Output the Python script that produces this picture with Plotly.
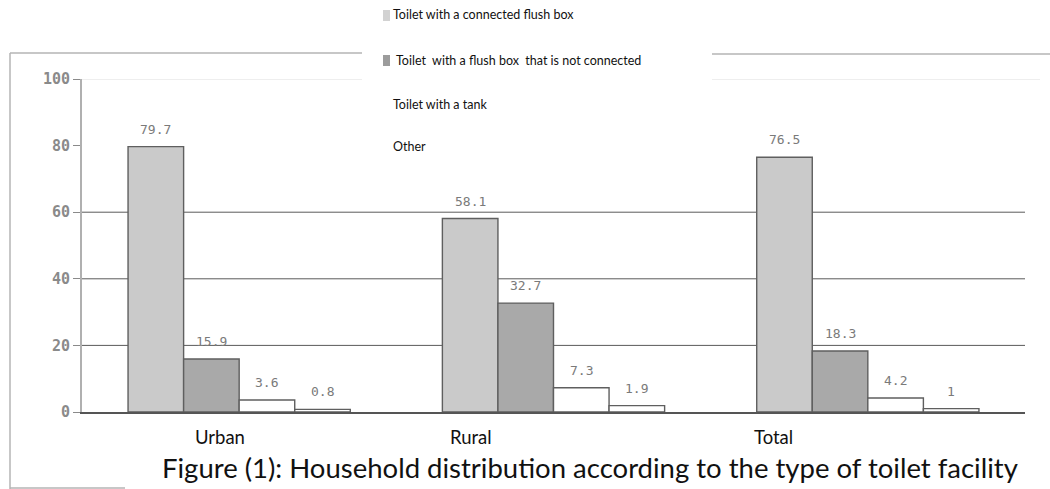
import plotly.graph_objects as go

# ---- data ----
areas = ["Urban", "Rural", "Total"]
series_names = [
    "Toilet with a connected flush box",
    "Toilet\u00a0 with a flush box\u00a0 that is not connected",
    "Toilet with a tank",
    "Other",
]
connected_flush = [79.7, 58.1, 76.5]
unconnected_flush = [15.9, 32.7, 18.3]
tank = [3.6, 7.3, 4.2]
other = [0.8, 1.9, 1]
y_ticks = [0, 20, 40, 60, 80, 100]
grid_levels = [20, 40, 60]
caption = "Figure (1): Household distribution according to the type of toilet facility"

# ---- layout geometry (pixels) ----
W, H = 1050, 489
L, R, T, B = 82, 25, 79, 77
PW, PH = W - L - R, H - T - B


def px(x):
    return (x - L) / PW


def py(y):
    return (H - B - y) / PH


fills = ["#cacaca", "#a9a9a9", "#ffffff", "#ffffff"]
series = [connected_flush, unconnected_flush, tank, other]

fig = go.Figure()
for name, vals, col in zip(series_names, series, fills):
    fig.add_trace(go.Bar(
        x=areas, y=vals, name=name,
        marker=dict(color=col, line=dict(color="#5f5f5f", width=1.4)),
        showlegend=False,
    ))

# value labels above each bar
n = len(series)
bar_w_px = 55.5
for i, vals in enumerate(series):
    for a, v in zip(areas, vals):
        fig.add_annotation(
            x=a, y=v, xref="x", yref="y", text=f"{v:g}", showarrow=False,
            xshift=(i - (n - 1) / 2) * bar_w_px, yshift=8, yanchor="bottom",
            font=dict(family="DejaVu Sans Mono", size=13, color="#7a7a7a"),
        )

# gridlines
for g in grid_levels:
    fig.add_shape(type="line", xref="paper", yref="y", x0=0, x1=1, y0=g, y1=g,
                  line=dict(color="#5a5a5a", width=1), layer="below")
fig.add_shape(type="line", xref="paper", yref="y", x0=0, x1=px(362), y0=100, y1=100,
              line=dict(color="#dddddd", width=1), layer="below")
fig.add_shape(type="line", xref="paper", yref="y", x0=px(712), x1=px(1040), y0=100, y1=100,
              line=dict(color="#dddddd", width=1), layer="below")

# outer frame pieces
frame = dict(color="#b5b5b5", width=1.5)
fig.add_shape(type="line", xref="paper", yref="paper", x0=px(10), x1=px(362), y0=py(53), y1=py(53), line=frame)
fig.add_shape(type="line", xref="paper", yref="paper", x0=px(712), x1=px(1050), y0=py(54), y1=py(54), line=frame)
fig.add_shape(type="line", xref="paper", yref="paper", x0=px(10), x1=px(10), y0=py(53), y1=py(489), line=frame)
fig.add_shape(type="line", xref="paper", yref="paper", x0=px(10), x1=px(125), y0=py(488), y1=py(488), line=frame)

# legend drawn as text with small swatches
legend_y = [15, 60, 104, 146]
legend_swatch = ["#d2d2d2", "#9c9c9c", None, None]
for name, yy, sw, in zip(series_names, legend_y, legend_swatch):
    x_text = 391 if sw != "#9c9c9c" else 394
    fig.add_annotation(
        x=px(x_text), y=py(yy), xref="paper", yref="paper", text=name,
        showarrow=False, xanchor="left", yanchor="middle",
        font=dict(family="Lato", size=12.5, color="#111111"),
    )
    if sw:
        fig.add_shape(type="rect", xref="paper", yref="paper",
                      x0=px(383), x1=px(390), y0=py(yy - 5), y1=py(yy + 6),
                      fillcolor=sw, line=dict(width=0))

# category labels
cat_x = [220, 471, 773]
for a, cx in zip(areas, cat_x):
    fig.add_annotation(
        x=px(cx), y=py(437), xref="paper", yref="paper", text=a, showarrow=False,
        xanchor="center", yanchor="middle",
        font=dict(family="Lato", size=18.5, color="#111111"),
    )

# caption
fig.add_annotation(
    x=px(590), y=py(467), xref="paper", yref="paper", text=caption, showarrow=False,
    xanchor="center", yanchor="middle",
    font=dict(family="Lato", size=27.5, color="#111111"),
)

fig.update_layout(
    width=W, height=H, margin=dict(l=L, r=R, t=T, b=B),
    paper_bgcolor="white", plot_bgcolor="white",
    barmode="group", bargap=0.293, bargroupgap=0,
    showlegend=False,
)
fig.update_xaxes(showticklabels=False, showgrid=False, zeroline=False,
                 showline=True, linecolor="#555555", linewidth=1.5, ticks="")
fig.update_yaxes(range=[0, 100], tickvals=y_ticks, showgrid=False, zeroline=False,
                 showline=True, linecolor="#b0b0b0", linewidth=2,
                 ticks="outside", ticklen=7, tickcolor="#8a8a8a",
                 tickfont=dict(family="DejaVu Sans Mono", size=15, color="#8a8a8a",
                               weight="bold"))

fig.write_html("out.html")
